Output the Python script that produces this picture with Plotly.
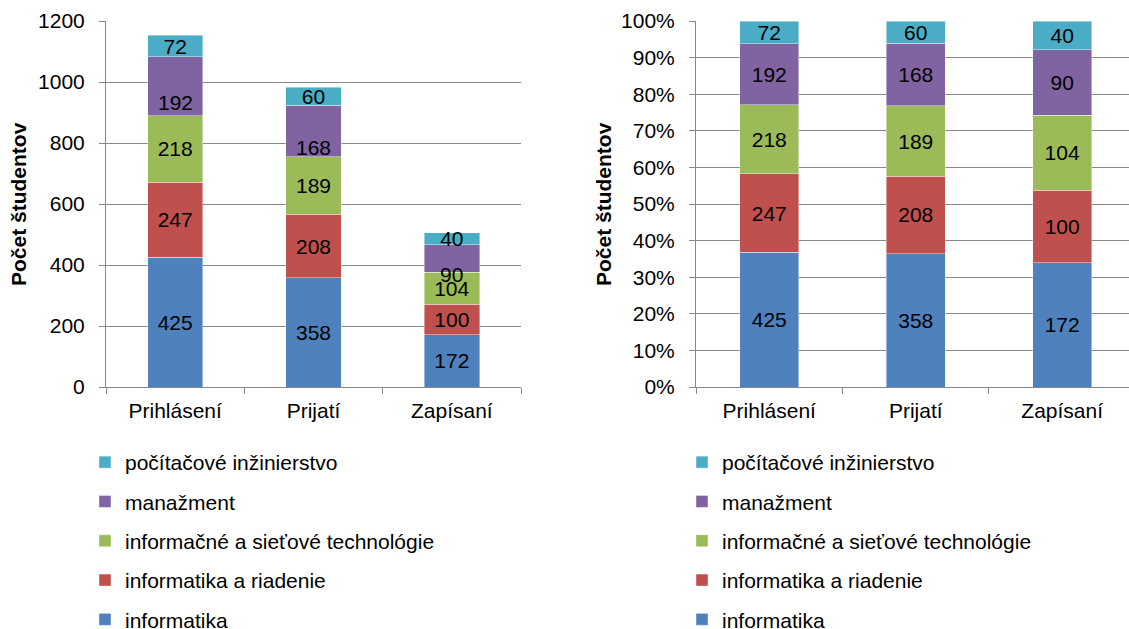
import plotly.graph_objects as go

# Student counts per study programme at each admission stage
stages = ["Prihlásení", "Prijatí", "Zapísaní"]
programmes = [
    "informatika",
    "informatika a riadenie",
    "informačné a sieťové technológie",
    "manažment",
    "počítačové inžinierstvo",
]
informatika = [425, 358, 172]
informatika_a_riadenie = [247, 208, 100]
siete = [218, 189, 104]
manazment = [192, 168, 90]
pocitacove = [72, 60, 40]

series = [informatika, informatika_a_riadenie, siete, manazment, pocitacove]
colors = ["#4F81BD", "#C0504D", "#9BBB59", "#8064A2", "#4BACC6"]

y_ticks_abs = [0, 200, 400, 600, 800, 1000, 1200]
y_ticks_pct = list(range(0, 101, 10))

FONT = "Liberation Sans, Arial, sans-serif"
FS = 21
GRID = "#888888"

W, H = 1129, 629
totals = [sum(s[i] for s in series) for i in range(len(stages))]

fig = go.Figure()

n = len(programmes)
for k, (name, vals, col) in enumerate(zip(programmes, series, colors)):
    rank = n - k  # top stack segment is listed first
    # absolute stacked chart (left)
    is_mgmt = name == "manažment"
    fig.add_trace(go.Bar(
        x=stages, y=vals, name=name, marker=dict(color=col, line=dict(width=0.6, color="rgba(255,255,255,0.7)")),
        text=[str(v) for v in vals], textposition="none" if is_mgmt else "inside",
        insidetextanchor="middle", textfont=dict(family=FONT, size=FS, color="black"),
        xaxis="x", yaxis="y", legend="legend", legendgroup="L%d" % k, legendrank=rank,
        hoverinfo="skip", cliponaxis=False,
    ))
    # percentage stacked chart (right)
    pct = [v / t * 100 for v, t in zip(vals, totals)]
    fig.add_trace(go.Bar(
        x=stages, y=pct, name=name, marker=dict(color=col, line=dict(width=0.6, color="rgba(255,255,255,0.7)")),
        text=[str(v) for v in vals], textposition="inside",
        insidetextanchor="middle", textfont=dict(family=FONT, size=FS, color="black"),
        xaxis="x2", yaxis="y2", legend="legend2", legendgroup="R%d" % k, legendrank=rank,
        hoverinfo="skip",
    ))

# labels of the management segments sit slightly below the segment middle
annotations = []
base = [informatika[i] + informatika_a_riadenie[i] + siete[i] for i in range(len(stages))]
for i, st in enumerate(stages):
    annotations.append(dict(
        x=st, y=base[i] + manazment[i] / 2, xref="x", yref="y", text=str(manazment[i]),
        showarrow=False, yshift=-16, font=dict(family=FONT, size=FS, color="black"),
    ))

# axis titles
for xpx in (18, 603):
    annotations.append(dict(
        x=xpx / W, y=1 - 204 / H, xref="paper", yref="paper", text="<b>Počet študentov</b>",
        textangle=-90, showarrow=False, xanchor="center", yanchor="middle",
        font=dict(family=FONT, size=FS, color="black"),
    ))

ydom = [1 - 387 / H, 1 - 21 / H]

xaxis_common = dict(
    type="category", tickson="boundaries", ticks="outside", ticklen=6, tickcolor=GRID,
    showline=True, linecolor=GRID, linewidth=1, showgrid=False, zeroline=False,
    tickfont=dict(family=FONT, size=FS, color="black"), fixedrange=True, ticklabelstandoff=5,
    automargin=False,
)
yaxis_common = dict(
    ticks="outside", ticklen=6, tickcolor=GRID, showline=True, linecolor=GRID, linewidth=1,
    showgrid=True, gridcolor=GRID, gridwidth=1, zeroline=False,
    tickfont=dict(family=FONT, size=FS, color="black"), fixedrange=True, ticklabelstandoff=10,
    automargin=False,
)

legend_common = dict(
    font=dict(family=FONT, size=FS, color="black"), traceorder="grouped",
    tracegroupgap=9, yanchor="top", xanchor="left", bgcolor="rgba(0,0,0,0)",
    itemclick=False, itemdoubleclick=False,
)

fig.update_layout(
    width=W, height=H, margin=dict(l=0, r=0, t=0, b=0, autoexpand=False),
    paper_bgcolor="white", plot_bgcolor="white",
    barmode="stack", bargap=0.6, showlegend=True,
    uniformtext=dict(minsize=FS, mode="show"),
    xaxis=dict(domain=[106 / W, 521 / W], range=[-0.5, 2.5], anchor="y", **xaxis_common),
    yaxis=dict(domain=ydom, range=[0, 1200], tickvals=y_ticks_abs, anchor="x", **yaxis_common),
    xaxis2=dict(domain=[696 / W, 1], range=[-0.5, 2.456], anchor="y2", **xaxis_common),
    yaxis2=dict(domain=ydom, range=[0, 100], tickvals=y_ticks_pct,
                ticktext=["%d%%" % v for v in y_ticks_pct], anchor="x2", **yaxis_common),
    legend=dict(x=85 / W, y=1 - 442 / H, **legend_common),
    legend2=dict(x=682 / W, y=1 - 442 / H, **legend_common),
    annotations=annotations,
)

fig.write_html("out.html", config={"displayModeBar": False})
